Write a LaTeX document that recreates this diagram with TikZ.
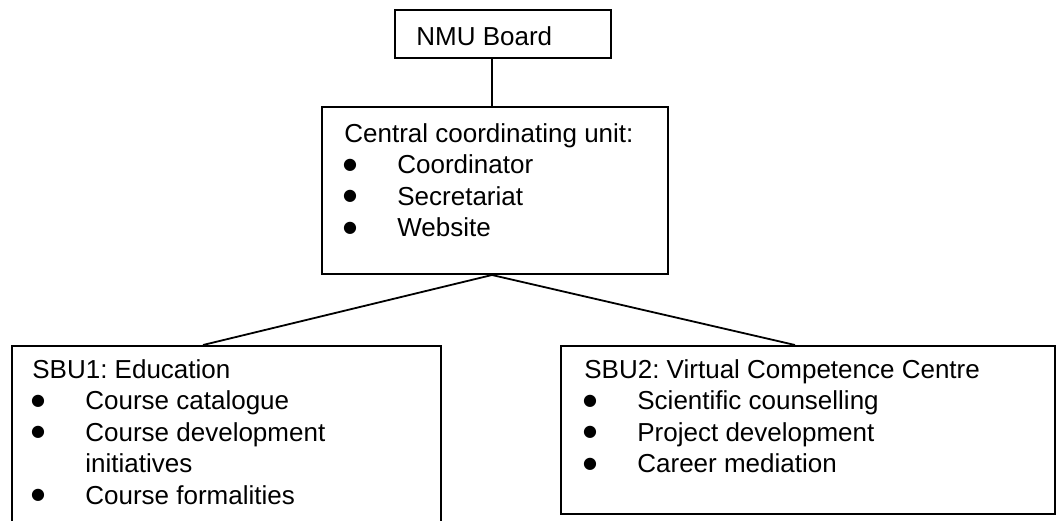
\documentclass[tikz,border=0pt]{standalone}
\usepackage{fontspec}
\setmainfont{Liberation Sans}
\newfontfamily\dejavu{DejaVu Sans}
\usetikzlibrary{fit}
\begin{document}
\frenchspacing
\begin{tikzpicture}[x=0.5pt,y=-0.5pt,
  box/.style={draw, line width=1pt, inner sep=0pt},
  link/.style={line width=0.9pt},
  txt/.style={anchor=base west, inner sep=0pt, font=\fontsize{13}{15.75}\selectfont},
  bul/.style={anchor=center, inner sep=0pt, font=\dejavu\fontsize{8}{8}\selectfont}]
\useasboundingbox (0,0) rectangle (1056,520);
\clip (0,0) rectangle (1056,520);
% boxes
\node[box, fit={(395,10)(611,58)}] (nmu) {};
\node[box, fit={(322,107)(668,274)}] (ccu) {};
\node[box, fit={(12,346)(441,560)}] (sbu1) {};
\node[box, fit={(561,346)(1055,514)}] (sbu2) {};
% connectors
\draw[link] ([xshift=-1.5pt]ccu.north) -- ([xshift=-1.5pt]ccu.north |- nmu.south);
\draw[link] ([xshift=-1.5pt]ccu.south) -- ([xshift=-11.75pt]sbu1.north);
\draw[link] ([xshift=-1.5pt]ccu.south) -- ([xshift=-6.5pt]sbu2.north);
% NMU text
\node[txt] (tnmu) at (416,45) {NMU Board};
% central text
\node[txt] (tccu) at (344,142) {Central coordinating unit:};
\node[bul] (bc1) at (350,165) {●};
\node[txt] (ic1) at (397,173.5) {Coordinator};
\node[bul] (bc2) at (350,196.5) {●};
\node[txt] (ic2) at (397,205) {Secretariat};
\node[bul] (bc3) at (350,228) {●};
\node[txt] (ic3) at (397,236.5) {Website};
% SBU1 text
\node[txt] (ts1) at (32,378) {SBU1: Education};
\node[bul] (b11) at (38,401) {●};
\node[txt] (i11) at (85,409.5) {Course catalogue};
\node[bul] (b12) at (38,432.5) {●};
\node[txt] (i12) at (85,441) {Course development};
\node[txt] (i12b) at (85,472.5) {initiatives};
\node[bul] (b13) at (38,495.5) {●};
\node[txt] (i13) at (85,504) {Course formalities};
% SBU2 text
\node[txt] (ts2) at (584,378) {SBU2: Virtual Competence Centre};
\node[bul] (b21) at (590,401) {●};
\node[txt] (i21) at (637,409.5) {Scientific counselling};
\node[bul] (b22) at (590,432.5) {●};
\node[txt] (i22) at (637,441) {Project development};
\node[bul] (b23) at (590,464) {●};
\node[txt] (i23) at (637,472.5) {Career mediation};
\end{tikzpicture}
\end{document}
